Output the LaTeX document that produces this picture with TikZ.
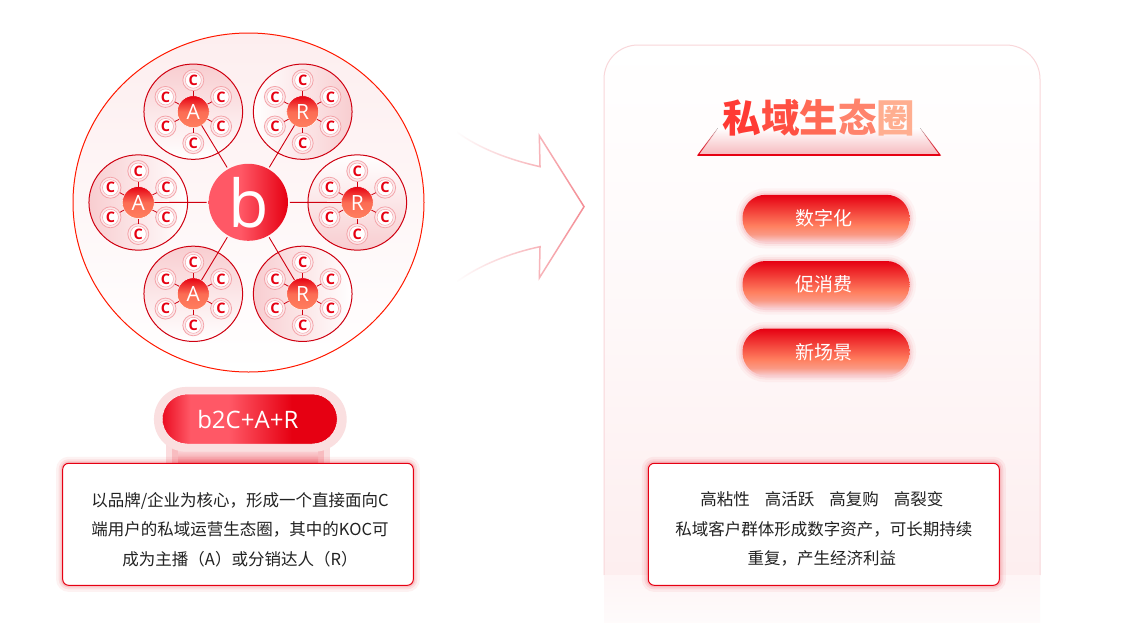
\documentclass[tikz,border=0pt]{standalone}
\usepackage{fontspec}
\setmainfont{Noto Sans CJK SC}
\newfontfamily\labelfont{Open Sans}
\usetikzlibrary{fadings,shapes.geometric}

\definecolor{rojo}{HTML}{E60012}
\definecolor{rojoClaro}{HTML}{FF5866}
\definecolor{naranja}{HTML}{FF7F5F}
\definecolor{rosa}{HTML}{F8CDD0}
\definecolor{rosaPanel}{HTML}{FDEEEF}
\definecolor{texto}{HTML}{222222}

\pgfdeclarehorizontalshading{coreShade}{100bp}{rgb(0bp)=(1,.345,.4); rgb(45bp)=(1,.345,.4); rgb(75bp)=(.902,0,.071); rgb(100bp)=(.902,0,.071)}
\pgfdeclarehorizontalshading{wideShade}{100bp}{rgb(0bp)=(.92,.05,.13); rgb(25bp)=(.92,.05,.13); rgb(33bp)=(1,.345,.4); rgb(44bp)=(1,.345,.4); rgb(62bp)=(.902,0,.071); rgb(100bp)=(.902,0,.071)}
\pgfdeclareverticalshading{pillShade}{100bp}{rgb(0bp)=(.973,.804,.816); rgb(25bp)=(.973,.804,.816); rgb(33bp)=(.98,.6,.52); rgb(42bp)=(1,.498,.373); rgb(75bp)=(.902,0,.071); rgb(100bp)=(.902,0,.071)}
\tikzfading[name=tailFade, left color=transparent!100, middle color=transparent!20, right color=transparent!0]
\newcommand{\firstLine}{\rule{0pt}{24pt}}

\begin{document}
\begin{tikzpicture}[x=1pt,y=-1pt]
    \tikzset{softGlow/.style = {preaction={draw=#1,line width=13pt,draw opacity=.05},
                                preaction={draw=#1,line width=8pt,draw opacity=.08},
                                preaction={draw=#1,line width=4pt,draw opacity=.12}}}
    \tikzset{BigCircle/.style = {shape=ellipse,draw=red!80!orange,line width=1pt,minimum width=351pt,minimum height=339pt,top color=rosaPanel,bottom color=white}}
    \tikzset{Ring/.style = {shape=ellipse,draw=rojo!90!black,line width=1pt,minimum width=98.7pt,minimum height=95.3pt,top color=rosa,bottom color=white}}
    \tikzset{Core/.style = {shape=ellipse,minimum width=79.3pt,minimum height=77pt,inner sep=0pt,outer sep=0pt,shading=coreShade,text=white,font=\labelfont\fontsize{66}{66}\selectfont}}
    \tikzset{Hub/.style = {shape=circle,minimum size=32pt,inner sep=0pt,outer sep=0pt,draw=white,line width=.5pt,top color=rojo,bottom color=naranja,middle color=naranja!85!rojo,text=white,font=\labelfont\fontsize{21}{21}\selectfont}}
    \tikzset{Client/.style = {shape=circle,minimum size=21pt,inner sep=0pt,outer sep=0pt,draw=rosa!80!rojo,line width=.8pt,fill=rosa!45!white,text=rojo,font=\labelfont\bfseries\fontsize{14.5}{14.5}\selectfont,
        path picture={\draw[rosa!80!rojo,fill=white,line width=.5pt] (path picture bounding box.center) circle (8pt);}}}
    \tikzset{TagPill/.style = {shape=rectangle,rounded corners=23pt,minimum width=167pt,minimum height=47pt,inner sep=0pt,shading=pillShade,text=white,font=\fontsize{19}{19}\selectfont}}
    \tikzset{TextBox/.style = {shape=rectangle,draw=rojo,line width=1pt,rounded corners=6pt,fill=white,minimum height=122pt,align=center,text=texto,inner sep=0pt,font=\fontsize{16.5}{29.5}\selectfont}}

    \tikzset{flecha/.style = {draw=rojo!90!black,line width=.9pt}}
    \tikzset{stub/.style = {draw=rojo!90!black,line width=.8pt}}

    \useasboundingbox (0,0) rectangle (1122,622);
    \fill[white] (0,0) rectangle (1122,622);

    %Panel de la derecha
    \path[top color=white,bottom color=rosaPanel,middle color=white!60!rosaPanel] (604,575) [rounded corners=34pt] -- (604,45) -- (1040,45) [sharp corners] -- (1040,575) -- cycle;
    \draw[rosa!80!white,line width=1pt] (604,575) [rounded corners=34pt] -- (604,45) -- (1040,45) [sharp corners] -- (1040,575);
    \fill[top color=rosaPanel!60!white,bottom color=rosaPanel!25!white] (604,575) rectangle (1040,622);

    %Circulo grande y centro
    \node[BigCircle] (outer) at (248.5,202.5) {};
    \node[Core] (core) at (248.3,202.3) {b};

    %Los seis anillos
    \foreach \nm/\cx/\cy/\lt/\sa in {ringA/193.3/111.7/A/0, ringB/302.7/111.7/R/-90, ringC/138.3/202.5/A/90,
                                     ringD/357.3/202.5/R/180, ringE/193.3/293.8/A/0, ringF/302.7/293.8/R/90}{
        \node[Ring,shading angle=\sa] (\nm) at (\cx,\cy) {};
        \node[Hub] (\nm hub) at (\cx,\cy) {\lt};
        \foreach \i/\ang in {1/90,2/28,3/-28,4/-90,5/-152,6/152}{
            \path (\nm hub) ++(\ang:31.5 and -31.5) node[Client] (\nm c\i) {C};
            \draw[stub] (\nm hub) -- (\nm c\i);
        }
    }

    %Del centro a cada anillo
    \draw[flecha,shorten >=2pt] (ringAhub) to (core);
    \draw[flecha,shorten >=2pt] (ringBhub) to (core);
    \draw[flecha,shorten >=2pt] (ringChub) to (core);
    \draw[flecha,shorten >=2pt] (ringDhub) to (core);
    \draw[flecha,shorten >=2pt] (ringEhub) to (core);
    \draw[flecha,shorten >=2pt] (ringFhub) to (core);

    %Flecha hueca
    \coordinate (tailUp) at (456.7,132);
    \coordinate (neckUp) at (540,166.7);
    \coordinate (barbUp) at (539.3,135.7);
    \coordinate (tip) at (584,206.7);
    \coordinate (barbDown) at (539.3,278);
    \coordinate (neckDown) at (540,246.7);
    \coordinate (tailDown) at (456.7,281.7);
    \draw[rojo!45!white,line width=1.5pt,path fading=tailFade] (tailUp) .. controls (480,149) and (510,160) .. (neckUp) -- (barbUp) -- (tip) -- (barbDown) -- (neckDown) .. controls (510,253) and (480,265) .. (tailDown);

    %Titulo
    \coordinate (baseL) at (698,155);
    \coordinate (baseR) at (940,155);
    \coordinate (topL) at (718,128);
    \coordinate (topR) at (920,128);
    \fill[top color=white,bottom color=rosa!90!rojo] (topL) -- (topR) -- (baseR) -- (baseL) -- cycle;
    \draw[rojo,line width=1pt,path fading=north] (topL) -- (baseL) -- (baseR) -- (topR);
    \draw[rojo,line width=1.1pt] (baseL) -- (baseR);
    \node[font=\bfseries\fontsize{38.5}{38.5}\selectfont,inner sep=0pt] (title) at (819,118)
        {\textcolor[HTML]{FF3A34}{私}\textcolor[HTML]{FF4F42}{域}\textcolor[HTML]{FF6A55}{生}\textcolor[HTML]{FF836C}{态}\textcolor[HTML]{FFAE90}{圈}};

    %Pastillas
    \node[TagPill,softGlow=rojo!70!white] (digital) at (826,218.3) {\hspace*{-5pt}数字化};
    \node[TagPill,softGlow=rojo!70!white] (consumo) at (826,284.5) {\hspace*{-5pt}促消费};
    \node[TagPill,softGlow=rojo!70!white] (escena) at (826,352) {\hspace*{-5pt}新场景};

    %Pastilla b2C y cuadro de la izquierda
    \fill[rojo!45!white,opacity=.3] (166,445) rectangle (330,464);
    \fill[rojo!45!white,opacity=.4] (172,445) rectangle (324,464);
    \fill[top color=rosa!30!white,bottom color=rojo!45!white] (178,445) rectangle (318,464);
    \node[shape=rectangle,rounded corners=32pt,minimum width=192.7pt,minimum height=64.7pt,inner sep=0pt,fill=rosa!65!white] (halo) at (250.3,419.3) {};
    \node[shape=rectangle,rounded corners=25pt,minimum width=175pt,minimum height=50pt,inner sep=0pt,shading=wideShade,draw=white,line width=.5pt,text=white,font=\labelfont\fontsize{24}{24}\selectfont] (formula) at (249.8,419) {b2C+A+R\hspace*{4pt}};
    \node[TextBox,softGlow=rojo,minimum width=350.6pt] (textLeft) at (238,524.3) {\firstLine\hspace*{4pt}以品牌/企业为核心，形成一个直接面向C\\\hspace*{4pt}端用户的私域运营生态圈，其中的KOC可\\\hspace*{4pt}成为主播（A）或分销达人（R）};

    %Cuadro de la derecha
    \node[TextBox,softGlow=rojo,minimum width=351pt] (textRight) at (823.8,524.3) {\firstLine 高粘性\hspace{15pt}高活跃\hspace{15pt}高复购\hspace{15pt}高裂变\hspace*{4pt}\\私域客户群体形成数字资产，可长期持续\hspace*{4pt}\\重复，产生经济利益\hspace*{4pt}};
\end{tikzpicture}
\end{document}
